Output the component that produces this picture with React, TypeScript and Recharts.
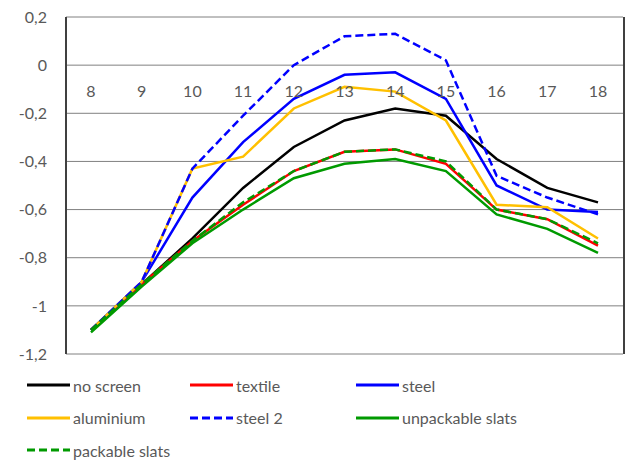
import {
  CartesianGrid,
  Legend,
  Line,
  LineChart,
  XAxis,
  YAxis,
} from 'recharts';

const hours = ['8', '9', '10', '11', '12', '13', '14', '15', '16', '17', '18'];

const noScreen = [-1.1, -0.91, -0.72, -0.51, -0.34, -0.23, -0.18, -0.21, -0.39, -0.51, -0.57];
const textile = [-1.1, -0.91, -0.73, -0.58, -0.44, -0.36, -0.35, -0.41, -0.6, -0.64, -0.75];
const steel = [-1.1, -0.9, -0.55, -0.32, -0.14, -0.04, -0.03, -0.14, -0.5, -0.6, -0.61];
const aluminium = [-1.1, -0.9, -0.43, -0.38, -0.18, -0.09, -0.11, -0.23, -0.58, -0.59, -0.72];
const steel2 = [-1.1, -0.9, -0.43, -0.21, 0.0, 0.12, 0.13, 0.02, -0.46, -0.55, -0.62];
const unpackable = [-1.11, -0.92, -0.74, -0.6, -0.47, -0.41, -0.39, -0.44, -0.62, -0.68, -0.78];
const packable = [-1.1, -0.91, -0.73, -0.57, -0.44, -0.36, -0.35, -0.4, -0.6, -0.64, -0.74];

const yTicks = [-1.2, -1, -0.8, -0.6, -0.4, -0.2, 0, 0.2];

const series = [
  { key: 'noScreen', name: 'no screen', values: noScreen, color: '#000000', dash: undefined },
  { key: 'textile', name: 'textile', values: textile, color: '#FF0000', dash: undefined },
  { key: 'steel', name: 'steel', values: steel, color: '#0000FF', dash: undefined },
  { key: 'aluminium', name: 'aluminium', values: aluminium, color: '#FFC000', dash: undefined },
  { key: 'steel2', name: 'steel 2', values: steel2, color: '#0000FF', dash: '8 4' },
  { key: 'unpackable', name: 'unpackable slats', values: unpackable, color: '#009A00', dash: undefined },
  { key: 'packable', name: 'packable slats', values: packable, color: '#009A00', dash: '8 4' },
];

const data = hours.map((hour, i) => {
  const row: Record<string, string | number> = { hour };
  series.forEach((s) => {
    row[s.key] = s.values[i];
  });
  return row;
});

const FONT = 'Lato, Calibri, sans-serif';
const TEXT = '#595959';
const BORDER = '#404040';

const formatY = (v: number) => String(Math.round(v * 10) / 10).replace('.', ',');

const HourTick = ({ x, y, payload }: any) => (
  <text
    x={x}
    y={y + 80}
    textAnchor="middle"
    fill={TEXT}
    fontSize={16}
    fontFamily={FONT}
  >
    {payload.value}
  </text>
);

const LegendBox = () => (
  <div
    style={{
      display: 'grid',
      gridTemplateColumns: '163px 166px auto',
      paddingLeft: 27,
      paddingTop: 15,
      height: 92,
      fontFamily: FONT,
      fontSize: 16,
      color: TEXT,
    }}
  >
    {series.map((s) => (
      <div key={s.key} style={{ display: 'flex', alignItems: 'center', height: 32.5 }}>
        <svg width={43} height={6} style={{ marginRight: 3 }}>
          <line
            x1={0}
            y1={3}
            x2={43}
            y2={3}
            stroke={s.color}
            strokeWidth={3}
            strokeDasharray={s.dash}
          />
        </svg>
        <span>{s.name}</span>
      </div>
    ))}
  </div>
);

export default function App() {
  return (
    <div style={{ position: 'relative', width: 625, height: 461, background: '#fff' }}>
      <style>{'body{margin:0}'}</style>
      <LineChart
        width={625}
        height={461}
        data={data}
        margin={{ top: 16, right: 2, bottom: 0, left: 0 }}
      >
        <CartesianGrid stroke="#808080" vertical={false} />
        <XAxis
          dataKey="hour"
          orientation="top"
          height={1}
          axisLine={false}
          tickLine={false}
          tickSize={0}
          tickMargin={0}
          interval={0}
          padding={{ left: 25, right: 25 }}
          tick={<HourTick />}
        />
        <YAxis
          type="number"
          domain={[-1.2, 0.2]}
          ticks={yTicks}
          width={66}
          axisLine={{ stroke: BORDER, strokeWidth: 2 }}
          tickLine={false}
          tickSize={0}
          tickMargin={19}
          tickFormatter={formatY}
          tick={{ fill: TEXT, fontSize: 16, fontFamily: FONT }}
        />
        {series.map((s) => (
          <Line
            key={s.key}
            dataKey={s.key}
            name={s.name}
            stroke={s.color}
            strokeWidth={2.5}
            strokeDasharray={s.dash}
            dot={false}
            type="linear"
            isAnimationActive={false}
          />
        ))}
        <Legend
          verticalAlign="bottom"
          wrapperStyle={{ width: 625, left: 0, height: 107 }}
          content={() => <LegendBox />}
        />
      </LineChart>
      {/* plot area frame: left and right edges */}
      <div
        style={{
          position: 'absolute',
          left: 65,
          top: 17,
          width: 560,
          height: 337,
          boxSizing: 'border-box',
          borderLeft: `2px solid ${BORDER}`,
          borderRight: `2px solid ${BORDER}`,
          pointerEvents: 'none',
          zIndex: 5,
        }}
      />
    </div>
  );
}
